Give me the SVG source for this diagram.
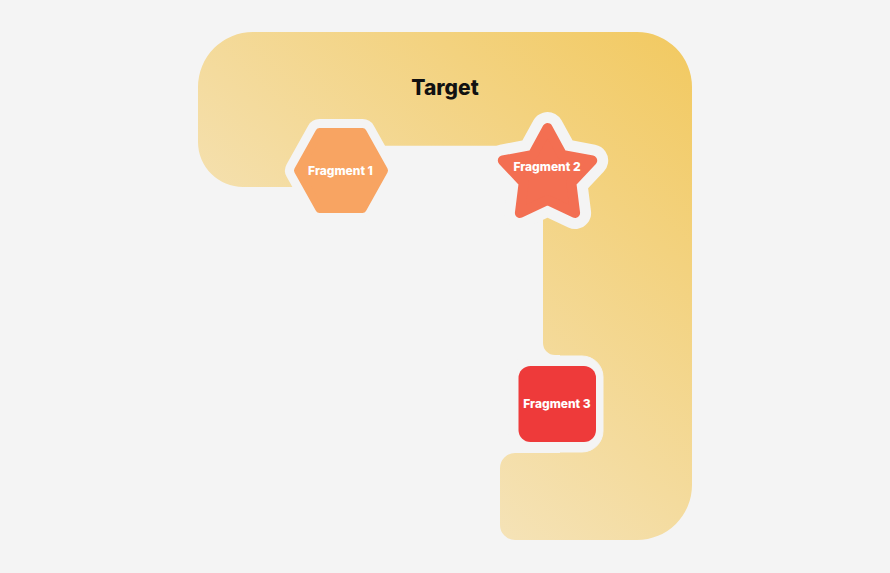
<svg xmlns="http://www.w3.org/2000/svg" width="890" height="573" viewBox="0 0 890 573">
  <defs>
    <linearGradient id="tg" gradientUnits="userSpaceOnUse" x1="692" y1="32" x2="330" y2="420">
      <stop offset="0" stop-color="#f2c960"/>
      <stop offset="1" stop-color="#f5e4bc"/>
    </linearGradient>
    <style>
      .halo { fill: #f4f4f4; stroke: #f4f4f4; stroke-linejoin: round; }
      .lbl { font-family: Inter, "Liberation Sans", sans-serif; font-weight: 800; font-size: 12px; fill: #ffffff; text-anchor: middle; }
      .ttl { font-family: Inter, "Liberation Sans", sans-serif; font-weight: 800; font-size: 21px; fill: #111111; text-anchor: middle; }
    </style>
  </defs>
  <rect width="890" height="573" fill="#f4f4f4"/>

  <g id="target">
    <path d="M 253 32 H 637 A 55 55 0 0 1 692 87 V 485 A 55 55 0 0 1 637 540 H 515 A 15 15 0 0 1 500 525 V 468 A 15 15 0 0 1 515 453 H 560 V 355 H 555 A 12 12 0 0 1 543 343 V 180 H 530 V 145.7 H 350 V 187 H 243 A 45 45 0 0 1 198 142 V 87 A 55 55 0 0 1 253 32 Z" fill="url(#tg)"/>
    <text class="ttl" x="445" y="95">Target</text>
  </g>

  <g id="halos">
    <polygon class="halo" stroke-width="26" points="298,170.5 319.5,132 362.5,132 384,170.5 362.5,209 319.5,209"/>
    <polygon class="halo" stroke-width="32" points="547.5,128 562.2,154.8 592.2,160.5 571.3,182.7 575.1,213 547.5,200 519.9,213 523.7,182.7 502.8,160.5 532.8,154.8"/>
    <rect class="halo" x="509" y="356" width="94" height="96" rx="21"/>
  </g>

  <g id="fragment1">
    <polygon points="298,170.5 319.5,132 362.5,132 384,170.5 362.5,209 319.5,209" fill="#f8a462" stroke="#f8a462" stroke-width="8" stroke-linejoin="round"/>
    <text class="lbl" x="340.5" y="175">Fragment 1</text>
  </g>

  <g id="fragment2">
    <polygon points="547.5,128 562.2,154.8 592.2,160.5 571.3,182.7 575.1,213 547.5,200 519.9,213 523.7,182.7 502.8,160.5 532.8,154.8" fill="#f36f52" stroke="#f36f52" stroke-width="10" stroke-linejoin="round"/>
    <text class="lbl" x="547" y="170.5">Fragment 2</text>
  </g>

  <g id="fragment3">
    <rect x="518.5" y="366" width="77.5" height="76" rx="12" fill="#ee3a3a"/>
    <text class="lbl" x="557" y="408">Fragment 3</text>
  </g>

  <g id="connectors"/>
</svg>
